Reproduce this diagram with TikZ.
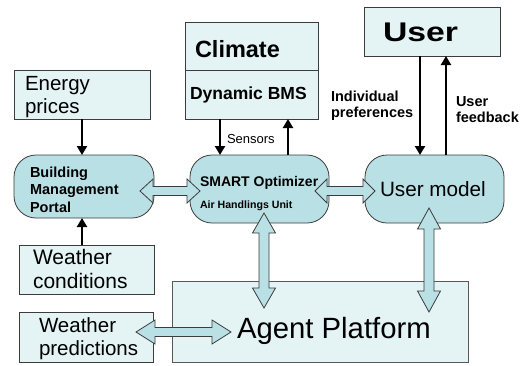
\documentclass[tikz,border=0pt]{standalone}
\usepackage{fontspec}
\setmainfont{Liberation Sans}
\usetikzlibrary{arrows.meta,calc}
\definecolor{pale}{HTML}{E4F3F4}
\definecolor{tealf}{HTML}{B9E0E4}
\definecolor{edgec}{HTML}{3C3C3C}
\newcommand\dblH[3]{\draw[fatarrow] (#1) -- ++(#3,-12) -- ++(0,7.5) -- ($(#2)+(-#3,-4.5)$) -- ++(0,-7.5) -- (#2) -- ++(-#3,12) -- ++(0,-7.5) -- ($(#1)+(#3,4.5)$) -- ++(0,7.5) -- cycle;}
\newcommand\dblV[3]{\draw[fatarrow] (#1) -- ++(11.5,#3) -- ++(-6.5,0) -- ($(#2)+(5,-#3)$) -- ++(6.5,0) -- (#2) -- ++(-11.5,-#3) -- ++(6.5,0) -- ($(#1)+(-5,#3)$) -- ++(-6.5,0) -- cycle;}
\begin{document}
\begin{tikzpicture}[x=1pt,y=-1pt,
  box/.style={draw=edgec, fill=pale, line width=0.8pt, inner sep=0pt, outer sep=0pt},
  roundbox/.style={draw=edgec, fill=tealf, line width=0.8pt, rounded corners=22pt, inner sep=0pt, outer sep=0pt},
  txt/.style={inner sep=0pt, outer sep=0pt, anchor=base west, align=left, text=black},
  thinarr/.style={line width=2.6pt, black, -{Triangle[width=10pt,length=9pt]}},
  fatarrow/.style={draw=edgec, fill=tealf, line width=0.8pt, line join=miter}]
\fill[white] (0,0) rectangle (526,365);
\useasboundingbox (0,0) rectangle (526,365);
% boxes
\node[box, minimum width=136pt, minimum height=49pt] (energy) at (82,94.5) {};
\node[box, minimum width=133pt, minimum height=48pt] (climate) at (251.5,46) {};
\node[box, minimum width=133pt, minimum height=49pt] (dbms) at (251.5,94.5) {};
\node[box, minimum width=136pt, minimum height=49pt] (user) at (432,31.5) {};
\node[roundbox, minimum width=140pt, minimum height=63pt] (bmp) at (84,186.5) {};
\node[roundbox, minimum width=139pt, minimum height=68pt] (smart) at (259.5,189) {};
\node[roundbox, minimum width=139pt, minimum height=68pt] (umodel) at (434.5,189) {};
\node[box, minimum width=135pt, minimum height=49pt] (wcond) at (86.5,269.5) {};
\node[box, minimum width=134pt, minimum height=50pt] (wpred) at (86,337) {};
\node[box, draw=black!65, minimum width=296pt, minimum height=81pt] (agent) at (320,321.5) {};
% texts (multi-line nodes: base = last line)
\node[txt, font=\fontsize{20.5}{23}\selectfont] (tenergy) at (25,113) {Energy\\prices};
\node[txt, font=\bfseries\fontsize{23.5}{26}\selectfont] (tclimate) at (195,57) {Climate};
\node[txt, font=\bfseries\fontsize{17.5}{20}\selectfont] (tdbms) at (190,99) {Dynamic BMS};
\node[txt, font=\bfseries\fontsize{27}{30}\selectfont] (tuser) at (383,41) {\scalebox{1.25}[1]{User}};
\node[txt, font=\bfseries\fontsize{14.5}{16}\selectfont] (tpref) at (331,117) {Individual\\preferences};
\node[txt, font=\bfseries\fontsize{14.5}{16}\selectfont] (tfb) at (456,122) {User\\feedback};
\node[txt, font=\fontsize{13}{15}\selectfont] (tsens) at (227,143) {Sensors};
\node[txt, font=\bfseries\fontsize{14.5}{17.5}\selectfont] (tbmp) at (30,212) {Building\\Management\\Portal};
\node[txt, font=\bfseries\fontsize{14}{16}\selectfont] (tsmart) at (200,186) {SMART Optimizer};
\node[txt, font=\bfseries\fontsize{10.6}{12}\selectfont] (tahu) at (200,208) {Air Handlings Unit};
\node[txt, font=\fontsize{20.7}{23}\selectfont] (tum) at (380,196) {User model};
\node[txt, font=\fontsize{21}{24}\selectfont] (twc) at (33,288) {Weather\\conditions};
\node[txt, font=\fontsize{20.5}{23}\selectfont] (twp) at (39,355) {Weather\\predictions};
\node[txt, font=\fontsize{29.3}{32}\selectfont] (tagent) at (237,338) {Agent Platform};
% thin arrows
\draw[thinarr] (energy.south) -- (energy.south |- bmp.north);
\coordinate (w1) at ($(wcond.north)+(-4.5,0)$);
\draw[thinarr] (w1) -- (w1 |- bmp.south);
\coordinate (s1) at ($(dbms.south)+(-31.5,0)$);
\draw[thinarr] (s1) -- (s1 |- smart.north);
\coordinate (s2) at ($(dbms.south)+(36.5,0)$);
\draw[thinarr] (s2 |- smart.north) -- (s2);
\coordinate (u1) at ($(user.south)+(-12,0)$);
\draw[thinarr] (u1) -- (u1 |- umodel.north);
\coordinate (u2) at ($(user.south)+(14,0)$);
\draw[thinarr] (u2 |- umodel.north) -- (u2);
% double arrows
\coordinate (h1a) at ($(bmp.east)+(-14,4.5)$);
\coordinate (h1b) at ($(smart.west)+(10,2)$);
\dblH{h1a}{h1b}{13}
\coordinate (h2a) at ($(smart.east)+(-14,2)$);
\coordinate (h2b) at ($(umodel.west)+(10,2)$);
\dblH{h2a}{h2b}{12}
\coordinate (h3a) at ($(wpred.east)+(-17,-5)$);
\coordinate (h3b) at ($(agent.west)+(59,10.5)$);
\dblH{h3a}{h3b}{19}
\coordinate (v1a) at ($(smart.south)+(4.5,-10)$);
\coordinate (v1b) at ($(agent.north)+(-56,27)$);
\dblV{v1a}{v1b}{20}
\coordinate (v2a) at ($(umodel.south)+(-5.5,-15)$);
\coordinate (v2b) at ($(agent.north)+(109,31)$);
\dblV{v2a}{v2b}{21}
\end{tikzpicture}
\end{document}
